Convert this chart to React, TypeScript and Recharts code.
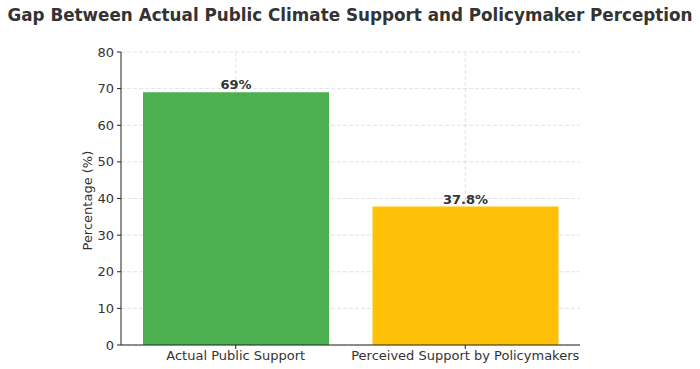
import * as React from 'react';
import { Bar, BarChart, CartesianGrid, Cell, LabelList, XAxis, YAxis } from 'recharts';

const categories = ['Actual Public Support', 'Perceived Support by Policymakers'];
const values = [69, 37.8];
const labels = ['69%', '37.8%'];
const colors = ['#4caf50', '#ffc107'];
const yTicks = [0, 10, 20, 30, 40, 50, 60, 70, 80];

const data = categories.map((name, i) => ({ name, value: values[i], label: labels[i] }));

const font = 'DejaVu Sans, sans-serif';

// vertical grid lines only at the centre of each category band
const verticalAtCentres = ({ offset }: any) =>
  categories.map((_, i) => offset.left + (offset.width * (i + 0.5)) / categories.length);

export default function App() {
  return (
    <div style={{ position: 'absolute', left: 0, top: 0, width: 700, height: 369, background: '#fff', fontFamily: font }}>
      <div
        style={{
          position: 'absolute',
          top: 5,
          left: 0,
          width: 700,
          textAlign: 'center',
          fontSize: 16.8,
          fontWeight: 'bold',
          color: '#333',
          whiteSpace: 'nowrap',
        }}
      >
        Gap Between Actual Public Climate Support and Policymaker Perception
      </div>
      <BarChart
        width={700}
        height={369}
        data={data}
        margin={{ top: 52, right: 120, bottom: 0, left: 0 }}
        barCategoryGap={0}
      >
        <XAxis
          dataKey="name"
          height={24}
          tickSize={4}
          tickMargin={2}
          stroke="#222"
          tick={{ fontSize: 13, fill: '#333', fontFamily: font }}
          interval={0}
        />
        <YAxis
          domain={[0, 80]}
          ticks={yTicks}
          width={121}
          tickSize={4}
          tickMargin={3}
          stroke="#222"
          tick={{ fontSize: 13, fill: '#333', fontFamily: font }}
          label={{
            value: 'Percentage (%)',
            angle: -90,
            position: 'insideLeft',
            dx: 82,
            dy: 52,
            style: { fontSize: 13, fill: '#333', fontFamily: font },
          }}
        />
        <Bar dataKey="value" barSize={186} isAnimationActive={false}>
          {data.map((d, i) => (
            <Cell key={d.name} fill={colors[i]} />
          ))}
          <LabelList
            dataKey="label"
            position="top"
            offset={3}
            style={{ fontSize: 13, fontWeight: 'bold', fill: '#333', fontFamily: font }}
          />
        </Bar>
        <CartesianGrid
          strokeDasharray="4 2"
          stroke="#b0b0b0"
          strokeOpacity={0.35}
          verticalCoordinatesGenerator={verticalAtCentres}
        />
      </BarChart>
    </div>
  );
}
